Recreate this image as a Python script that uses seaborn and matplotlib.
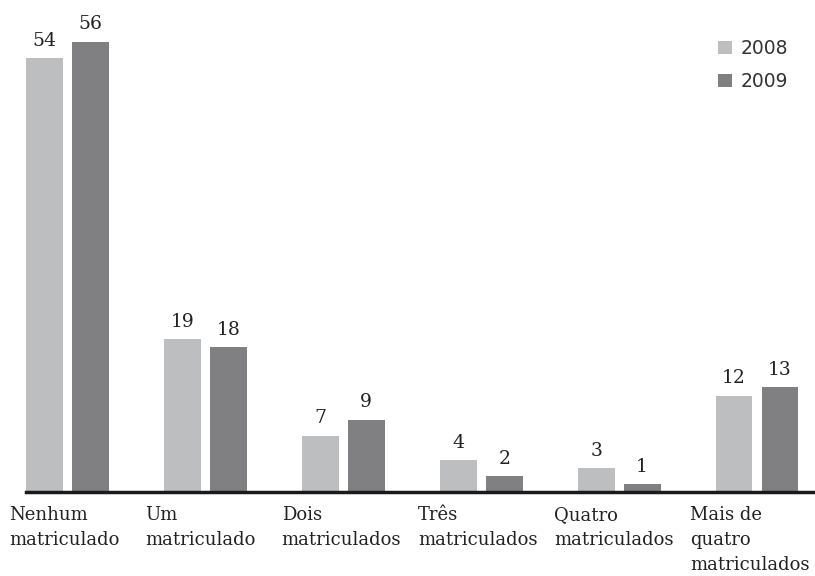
import pandas as pd
import matplotlib.pyplot as plt
import seaborn as sns

categorias = ["Nenhum\nmatriculado", "Um\nmatriculado", "Dois\nmatriculados",
              "Três\nmatriculados", "Quatro\nmatriculados", "Mais de\nquatro\nmatriculados"]
anos = ["2008", "2009"]
valores_2008 = [54, 19, 7, 4, 3, 12]
valores_2009 = [56, 18, 9, 2, 1, 13]

df = pd.DataFrame({
    "categoria": categorias * 2,
    "ano": [anos[0]] * len(categorias) + [anos[1]] * len(categorias),
    "valor": valores_2008 + valores_2009,
})

sns.set_style("white")
plt.rcParams["font.family"] = ["DejaVu Serif"]

fig = plt.figure(figsize=(8.15, 5.76), dpi=100)
ax = fig.add_axes([26 / 815, 84 / 576, 1 - 26 / 815, 492 / 576])

sns.barplot(data=df, x="categoria", y="valor", hue="ano", order=categorias,
            palette=["#bdbebf", "#808083"], width=0.667, gap=0.2,
            saturation=1, linewidth=0, ax=ax)

for cont in ax.containers:
    ax.bar_label(cont, padding=6, fontsize=13.5, color="#222222")

ax.set_xlim(-0.3, 5.42)
ax.set_ylim(0, 61.2)
ax.set_xticks([])
ax.set_yticks([])
ax.set_xlabel("")
ax.set_ylabel("")
sns.despine(ax=ax, left=True)
ax.spines["bottom"].set_linewidth(2.5)
ax.spines["bottom"].set_color("#1a1a1a")

for i, cat in enumerate(categorias):
    ax.text(i - 0.42 - 0.013 * i, -1.7, cat, ha="left", va="top", fontsize=13,
            color="#222222", linespacing=1.5, clip_on=False)

leg = ax.legend(frameon=False, loc="upper right", bbox_to_anchor=(0.987, 0.955),
                handlelength=0.75, handleheight=0.75, handletextpad=0.45,
                labelspacing=0.75, prop={"family": "DejaVu Sans", "size": 13.5})
for t in leg.get_texts():
    t.set_color("#333333")

fig.savefig("out.png", dpi=100)
